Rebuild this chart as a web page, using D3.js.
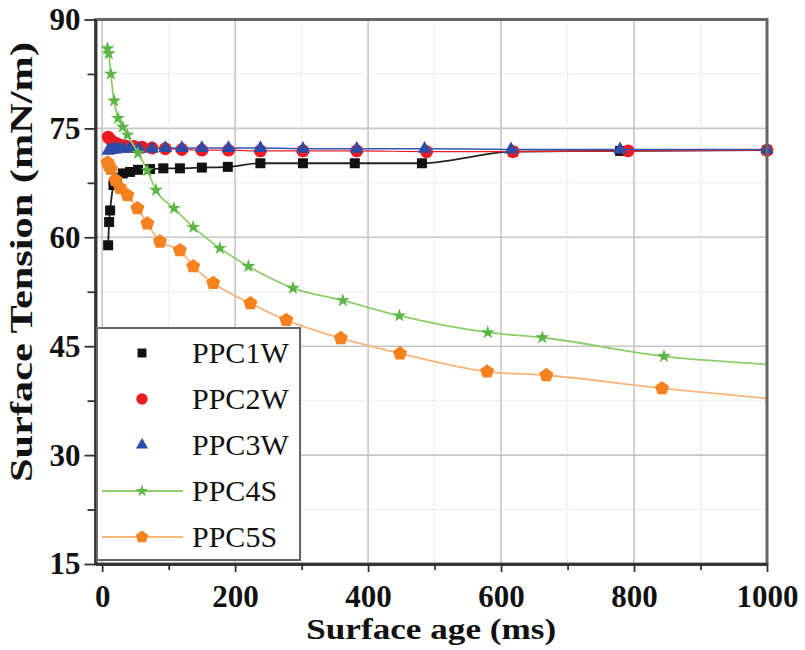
<!DOCTYPE html>
<html>
<head>
<meta charset="utf-8">
<script src="https://cdn.jsdelivr.net/npm/d3@7"></script>
<style>
    body { margin: 0; background: #fff; }
    text { font-family: "Liberation Serif", "Times New Roman", serif; fill: #111; }
</style>
</head>
<body>
<div id="chart"></div>
<script>
/* values: surface age (ms) / surface tension (mN/m) */
let ppc1wAge = [9, 10.5, 12, 17, 22, 31, 42, 54, 72, 92, 117, 150, 189, 238, 302, 380, 481, 618, 779, 1000];
let ppc1wST = [58.9, 62.1, 63.7, 67.2, 68.2, 68.8, 69.0, 69.3, 69.4, 69.5, 69.5, 69.6, 69.7, 70.2, 70.2, 70.2, 70.2, 71.8, 71.9, 72.0];

let ppc2wAge = [9, 13, 17, 22, 28, 35, 48, 60, 75, 95, 120, 150, 190, 238, 302, 383, 488, 618, 791, 1000];
let ppc2wST = [73.8, 73.4, 73.1, 72.9, 72.7, 72.6, 72.5, 72.4, 72.3, 72.2, 72.1, 72.0, 72.0, 71.9, 71.9, 71.9, 71.8, 71.8, 71.9, 72.0];

let ppc3wAge = [9, 12, 16, 20, 26, 33, 42, 55, 75, 95, 120, 150, 190, 238, 302, 383, 485, 615, 779, 1000];
let ppc3wST = [71.9, 72.0, 72.1, 72.1, 72.2, 72.2, 72.2, 72.2, 72.2, 72.3, 72.3, 72.3, 72.3, 72.3, 72.2, 72.2, 72.2, 72.1, 72.1, 72.1];

let ppc4sAge = [8, 10, 13, 18, 24, 31, 38, 54, 68, 81, 108, 137, 177, 220, 287, 362, 447, 580, 662, 845];
let ppc4sST = [86.0, 85.3, 82.5, 78.8, 76.4, 75.2, 74.1, 71.6, 69.2, 66.5, 64.0, 61.4, 58.5, 56.0, 53.0, 51.3, 49.2, 46.9, 46.2, 43.6];
/* the fitted line runs on past the last marker */
let ppc4sTail = [1000, 42.5];

let ppc5sAge = [8, 10, 13, 20, 27, 38, 53, 68, 87, 117, 137, 167, 223, 277, 359, 448, 579, 668, 842];
let ppc5sST = [70.3, 69.9, 69.4, 67.9, 66.8, 65.8, 64.0, 61.9, 59.4, 58.2, 56.0, 53.7, 50.9, 48.6, 46.1, 44.0, 41.5, 41.0, 39.2];
let ppc5sTail = [1000, 37.8];

let seriesNames = ["PPC1W", "PPC2W", "PPC3W", "PPC4S", "PPC5S"];
let xTicks = [0, 200, 400, 600, 800, 1000];
let xMinorTicks = [100, 300, 500, 700, 900];
let yTicks = [15, 30, 45, 60, 75, 90];
let yMinorTicks = [22.5, 37.5, 52.5, 67.5, 82.5];

let width = 805;
let height = 650;

/* plot box */
let plotLeft = 95.5, plotRight = 767, plotTop = 19.5, plotBottom = 564;

let svg = d3.select("#chart")
    .append("svg")
    .attr("width", width)
    .attr("height", height);

let xScale = d3.scaleLinear().domain([-10, 1000]).range([plotLeft, plotRight]);
let yScale = d3.scaleLinear().domain([15, 90]).range([plotBottom, plotTop]);

/* regular pentagon symbol, d3 has none */
let symbolPentagon = {
    draw: function(context, size) {
        let r = Math.sqrt(size / 2.378);
        for (let i = 0; i < 5; i++) {
            let a = -Math.PI / 2 + i * 2 * Math.PI / 5;
            if (i === 0) context.moveTo(r * Math.cos(a), r * Math.sin(a));
            else context.lineTo(r * Math.cos(a), r * Math.sin(a));
        }
        context.closePath();
    }
};

function toPoints(ages, values) {
    return ages.map(function(a, i) { return { age: a, st: values[i] }; });
}

let series = [
    { name: seriesNames[0], pts: toPoints(ppc1wAge, ppc1wST), tail: null, symbol: d3.symbolSquare, size: 100, fill: "#111", stroke: "#222", lw: 1.8, legendLine: false },
    { name: seriesNames[1], pts: toPoints(ppc2wAge, ppc2wST), tail: null, symbol: d3.symbolCircle, size: 130, fill: "#ec1c24", stroke: "#ec1c24", lw: 1.2, legendLine: false },
    { name: seriesNames[2], pts: toPoints(ppc3wAge, ppc3wST), tail: null, symbol: d3.symbolTriangle, size: 80, fill: "#2d4ca8", stroke: "#3653b8", lw: 1.5, legendLine: false },
    { name: seriesNames[3], pts: toPoints(ppc4sAge, ppc4sST), tail: ppc4sTail, symbol: d3.symbolStar, size: 60, fill: "#5cb545", stroke: "#8ccd6c", lw: 1.8, legendLine: true },
    { name: seriesNames[4], pts: toPoints(ppc5sAge, ppc5sST), tail: ppc5sTail, symbol: symbolPentagon, size: 130, fill: "#f5821f", stroke: "#f8b57a", lw: 1.8, legendLine: true }
];

/* grid lines */
let grid = svg.append("g");
grid.selectAll("line.vminor").data(xMinorTicks).enter().append("line")
    .attr("x1", d => xScale(d)).attr("x2", d => xScale(d))
    .attr("y1", plotTop).attr("y2", plotBottom)
    .attr("stroke", "#dcdcdc").attr("stroke-width", 1).attr("stroke-dasharray", "2,2");
grid.selectAll("line.hminor").data(yMinorTicks).enter().append("line")
    .attr("x1", plotLeft).attr("x2", plotRight)
    .attr("y1", d => yScale(d)).attr("y2", d => yScale(d))
    .attr("stroke", "#dcdcdc").attr("stroke-width", 1).attr("stroke-dasharray", "2,2");
grid.selectAll("line.vmajor").data(xTicks).enter().append("line")
    .attr("x1", d => xScale(d)).attr("x2", d => xScale(d))
    .attr("y1", plotTop).attr("y2", plotBottom)
    .attr("stroke", "#c6c6c6").attr("stroke-width", 1.6);
grid.selectAll("line.hmajor").data(yTicks).enter().append("line")
    .attr("x1", plotLeft).attr("x2", plotRight)
    .attr("y1", d => yScale(d)).attr("y2", d => yScale(d))
    .attr("stroke", "#c6c6c6").attr("stroke-width", 1.6);

/* series: line then markers */
series.forEach(function(s) {
    let lineData = s.pts.slice();
    if (s.tail) lineData.push({ age: s.tail[0], st: s.tail[1] });

    let line = d3.line()
        .x(d => xScale(d.age))
        .y(d => yScale(d.st))
        .curve(d3.curveMonotoneX);

    svg.append("path")
        .datum(lineData)
        .attr("d", line)
        .attr("fill", "none")
        .attr("stroke", s.stroke)
        .attr("stroke-width", s.lw);

    svg.append("g").selectAll("path")
        .data(s.pts)
        .enter()
        .append("path")
        .attr("transform", d => "translate(" + xScale(d.age) + "," + yScale(d.st) + ")")
        .attr("d", d3.symbol().type(s.symbol).size(s.size))
        .attr("fill", s.fill);
});

/* frame */
svg.append("rect")
    .attr("x", plotLeft).attr("y", plotTop)
    .attr("width", plotRight - plotLeft).attr("height", plotBottom - plotTop)
    .attr("fill", "none").attr("stroke", "#666").attr("stroke-width", 3);

/* axes */
let xAxis = d3.axisBottom(xScale).tickValues(xTicks).tickFormat(d3.format("d"))
    .tickSize(8).tickPadding(13).tickSizeOuter(0);
let xAxisMinor = d3.axisBottom(xScale).tickValues(xMinorTicks).tickSize(6).tickFormat("").tickSizeOuter(0);
let yAxis = d3.axisLeft(yScale).tickValues(yTicks).tickFormat(d3.format("d"))
    .tickSize(11).tickPadding(4).tickSizeOuter(0);
let yAxisMinor = d3.axisLeft(yScale).tickValues(yMinorTicks).tickSize(8).tickFormat("").tickSizeOuter(0);

function styleAxis(g) {
    g.select(".domain").attr("stroke", "#333").attr("stroke-width", 2.5);
    g.selectAll(".tick line").attr("stroke", "#333").attr("stroke-width", 1.8);
    g.selectAll(".tick text")
        .style("font-family", "'Liberation Serif', serif")
        .style("font-weight", "bold")
        .style("font-size", "31px")
        .attr("fill", "#111");
}

svg.append("g").attr("transform", "translate(0," + plotBottom + ")").call(xAxisMinor).call(styleAxis);
svg.append("g").attr("transform", "translate(0," + plotBottom + ")").call(xAxis).call(styleAxis);
svg.append("g").attr("transform", "translate(" + plotLeft + ",0)").call(yAxisMinor).call(styleAxis);
svg.append("g").attr("transform", "translate(" + plotLeft + ",0)").call(yAxis).call(styleAxis);

/* axis titles */
svg.append("text")
    .attr("x", (plotLeft + plotRight) / 2).attr("y", 639)
    .attr("text-anchor", "middle")
    .style("font-weight", "bold").style("font-size", "30px")
    .attr("textLength", 250).attr("lengthAdjust", "spacingAndGlyphs")
    .text("Surface age (ms)");

svg.append("text")
    .attr("transform", "translate(32,262) rotate(-90)")
    .attr("text-anchor", "middle")
    .style("font-weight", "bold").style("font-size", "31px")
    .attr("textLength", 440).attr("lengthAdjust", "spacingAndGlyphs")
    .text("Surface Tension (mN/m)");

/* legend */
let legend = svg.append("g");
legend.append("rect")
    .attr("x", 97).attr("y", 328)
    .attr("width", 203).attr("height", 232)
    .attr("fill", "#fff").attr("stroke", "#666").attr("stroke-width", 2);

series.forEach(function(s, i) {
    let ly = 353 + i * 46;
    if (s.legendLine) {
        legend.append("line")
            .attr("x1", 102).attr("x2", 183)
            .attr("y1", ly).attr("y2", ly)
            .attr("stroke", s.stroke).attr("stroke-width", s.lw);
    }
    legend.append("path")
        .attr("transform", "translate(142," + ly + ")")
        .attr("d", d3.symbol().type(s.symbol).size(s.size * 0.8))
        .attr("fill", s.fill);
    legend.append("text")
        .attr("x", 192).attr("y", ly + 10)
        .style("font-size", "30px")
        .text(s.name);
});
</script>
</body>
</html>
